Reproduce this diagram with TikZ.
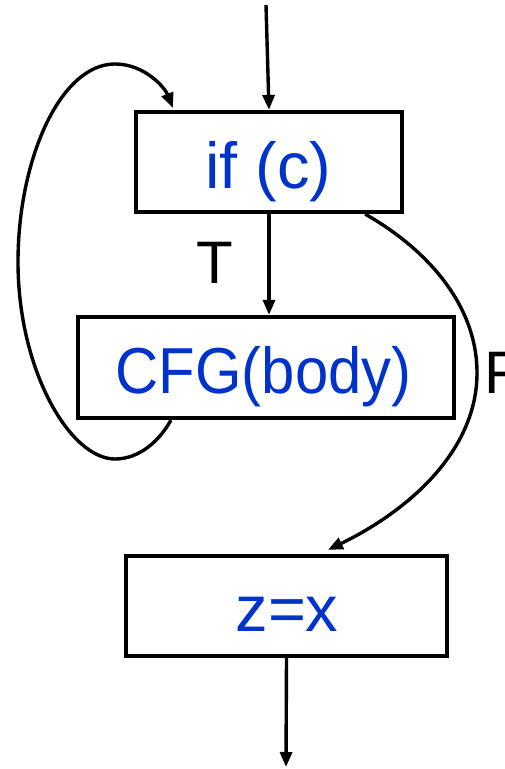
\documentclass[tikz,border=0pt]{standalone}
\usepackage{fontspec}
\setmainfont{Liberation Sans}
\usetikzlibrary{arrows.meta,calc}
\definecolor{codeblue}{RGB}{0,51,204}
\begin{document}
\begin{tikzpicture}[x=1pt,y=-1pt,
  blockbox/.style={draw=black,line width=4.2pt,rectangle,inner sep=0pt},
  code/.style={text=codeblue,font=\fontsize{65}{71}\selectfont,inner sep=0pt,anchor=base},
  lab/.style={text=black,font=\fontsize{60}{66}\selectfont,inner sep=0pt,anchor=base},
  flow/.style={line width=3.4pt,-{Triangle[length=15pt,width=12pt]}}]
\useasboundingbox (0,0) rectangle (505,769);
% boxes
\node[blockbox,minimum width=266pt,minimum height=100pt] (b1) at (269,162) {};
\node[blockbox,minimum width=376pt,minimum height=101pt] (b2) at (266,367.5) {};
\node[blockbox,minimum width=321pt,minimum height=100pt] (b3) at (286.5,606) {};
% texts
\node[code] (t1) at (268.5,188) {if (c)};
\node[code] (t2) at (263.5,393) {\scalebox{0.92}[1]{CFG(body)}};
\node[code] (t3) at (287,631) {z=x};
\node[lab] (lt) at (215,283) {T};
\node[lab,anchor=base west] (lf) at (484,393) {F};
% connectors
\coordinate (in) at (266,5);
\coordinate (out) at (286,767);
\draw[flow] (in) -- (b1.north);
\draw[flow] (b1.south) -- (b1.south |- b2.north);
\draw[flow] (b3.south) -- (out);
\coordinate (ls) at ($(b2.south west)+(95,0)$);
\coordinate (le) at ($(b1.north west)+(39,-2)$);
\draw[flow] (ls) .. controls (160,440) and (140,459) .. (115,459)
  .. controls (70,459) and (18,370) .. (18,262)
  .. controls (18,160) and (60,64) .. (115,64)
  .. controls (145,64) and (165,88) .. (le);
\coordinate (fs) at ($(b1.south east)+(-39,0)$);
\coordinate (fe) at ($(b3.north west)+(204,-4)$);
\draw[flow] (fs) .. controls (420,245) and (477,300) .. (477,373)
  .. controls (477,450) and (410,510) .. (fe);
\end{tikzpicture}
\end{document}
